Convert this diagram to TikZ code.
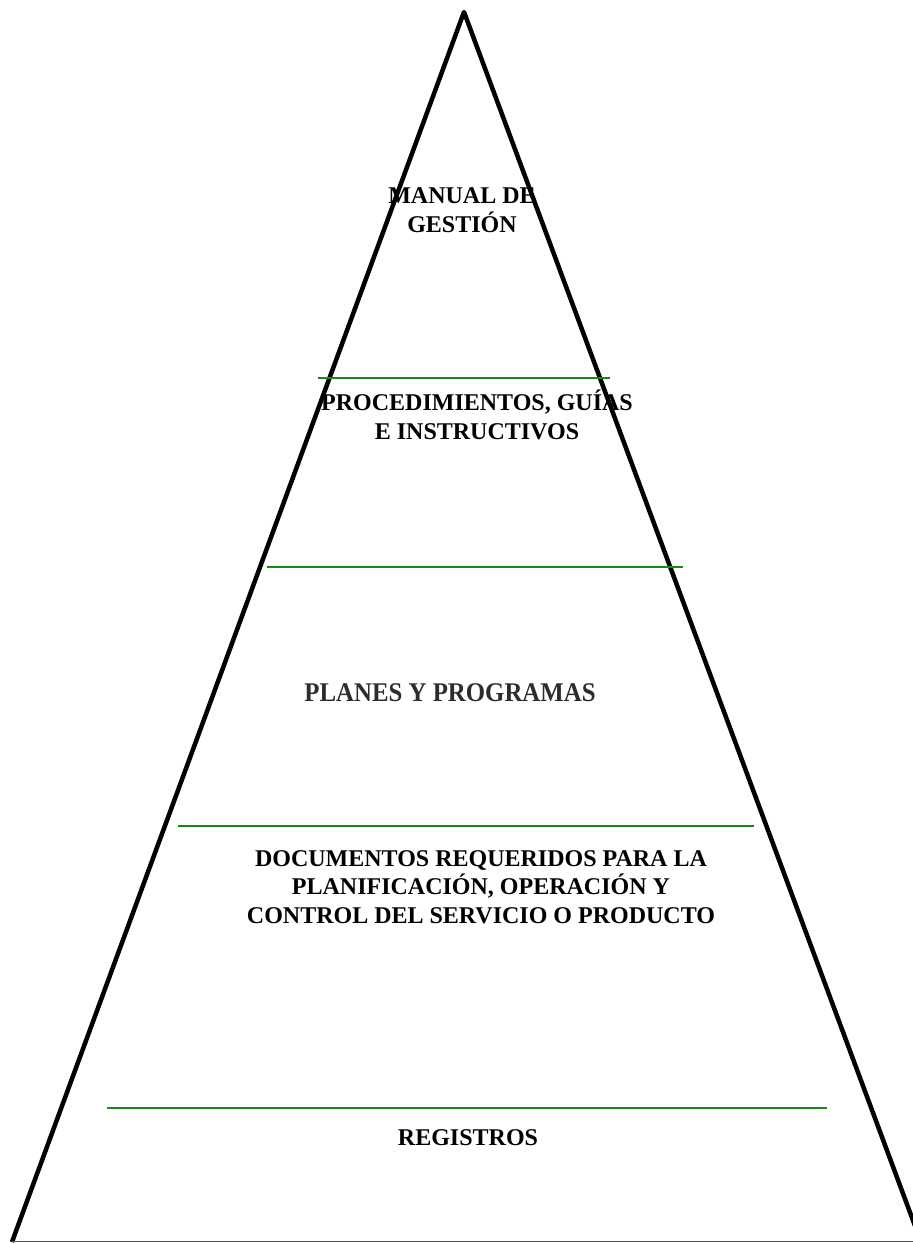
\documentclass[tikz,border=0pt]{standalone}
\usepackage{fontspec}
\setmainfont{Liberation Serif}
\newfontfamily\planesfont[FakeStretch=0.92]{Liberation Serif}
\definecolor{basegray}{RGB}{85,85,85}
\definecolor{levelgreen}{RGB}{20,140,20}
\definecolor{textgray}{RGB}{45,45,45}
\begin{document}
\begin{tikzpicture}[x=1pt,y=-1pt,
  side/.style={line width=4.5pt,line join=round,black},
  baseln/.style={line width=1.6pt,draw=basegray},
  level/.style={line width=2pt,draw=levelgreen},
  lbl/.style={inner sep=0pt,align=center,font=\bfseries\fontsize{24}{28.5}\selectfont,anchor=base},
  lblalt/.style={inner sep=0pt,align=center,font=\planesfont\bfseries\fontsize{27}{32}\selectfont,text=textgray,anchor=base}]
\useasboundingbox (0,0) rectangle (913,1243);
\coordinate (apex) at (464,12);
\coordinate (bl) at (12,1242);
\coordinate (br) at (921,1242);
\coordinate (bbl) at (12,1241.5);
\coordinate (bbr) at (913,1241.5);
\begin{scope}
\clip (0,0) rectangle (913,1243);
\draw[side] (bl) -- (apex) -- (br);
\end{scope}
\draw[baseln] (bbl) -- (bbr);
\coordinate (l1a) at (318,378); \coordinate (l1b) at (610,378);
\coordinate (l2a) at (267,567); \coordinate (l2b) at (683,567);
\coordinate (l3a) at (178,826); \coordinate (l3b) at (754,826);
\coordinate (l4a) at (107,1108); \coordinate (l4b) at (827,1108);
\draw[level] (l1a) -- (l1b);
\draw[level] (l2a) -- (l2b);
\draw[level] (l3a) -- (l3b);
\draw[level] (l4a) -- (l4b);
\node[lbl] (manual) at (462,232) {MANUAL DE\\GESTIÓN};
\node[lbl] (proc) at (477,439) {PROCEDIMIENTOS, GUÍAS\\E INSTRUCTIVOS};
\node[lblalt] (planes) at (450,701) {PLANES Y PROGRAMAS};
\node[lbl] (docs) at (481,923) {DOCUMENTOS REQUERIDOS PARA LA\\PLANIFICACIÓN, OPERACIÓN Y\\CONTROL DEL SERVICIO O PRODUCTO};
\node[lbl] (reg) at (468,1145) {REGISTROS};
\end{tikzpicture}
\end{document}
